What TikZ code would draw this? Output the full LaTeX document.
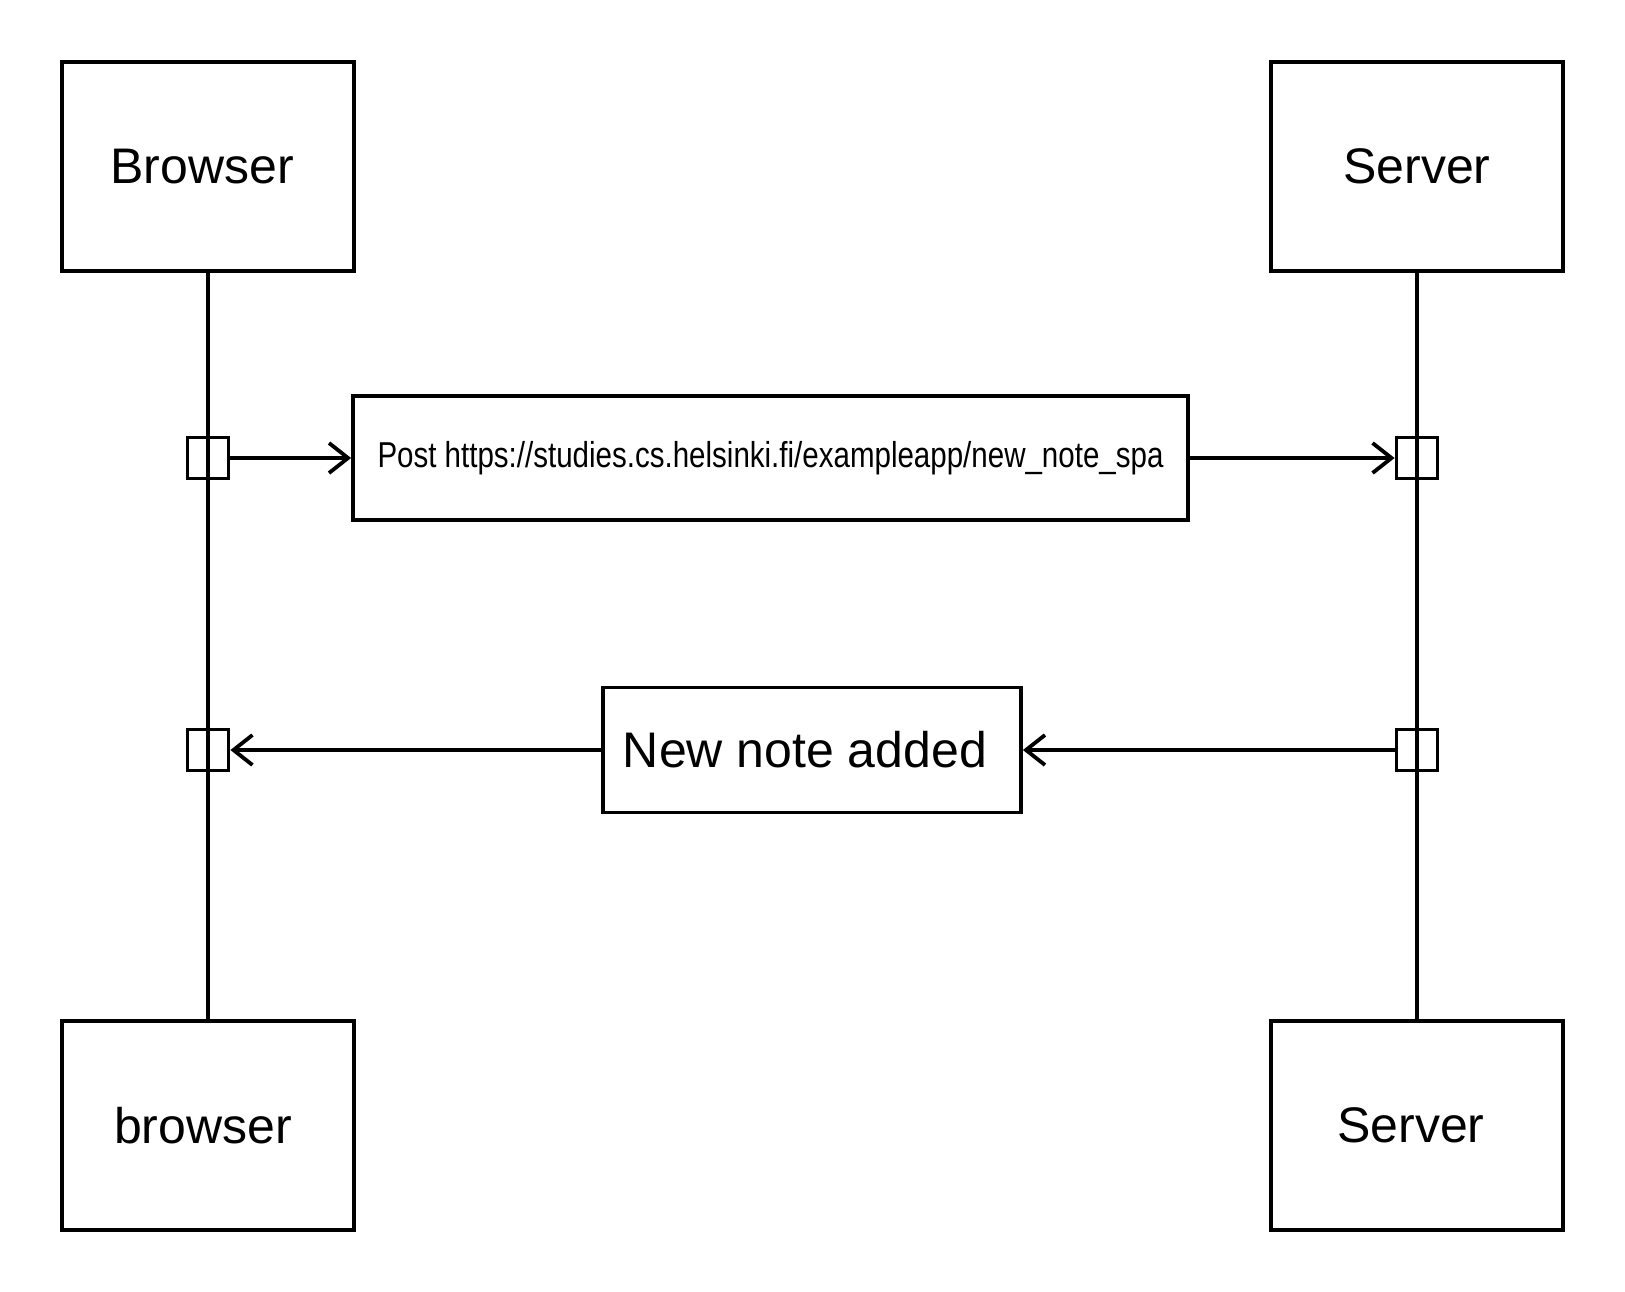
\documentclass[tikz,border=0pt]{standalone}
\usepackage{fontspec}
\setmainfont{Liberation Sans}
\newfontfamily\narrowfont[FakeStretch=0.82]{Liberation Sans}
\usetikzlibrary{arrows.meta}
\begin{document}
\begin{tikzpicture}[x=0.5pt,y=-0.5pt,
  line width=1.9pt,
  actor/.style={draw, minimum width=146pt, minimum height=104.5pt, inner sep=0pt, font=\fontsize{25}{30}\selectfont},
  msgbox/.style={draw, inner sep=0pt},
  act/.style={draw, minimum size=20.5pt, inner sep=0pt},
  msg/.style={-{Straight Barb[length=9.5pt,width=15pt,line width=1.9pt]}}
]
\useasboundingbox (0,0) rectangle (1625,1291);
\node[actor] (bt) at (208,166.5) {Browser\hspace*{6pt}};
\node[actor] (st) at (1417,166.5) {Server};
\node[actor] (bb) at (208,1125.5) {browser\hspace*{5pt}};
\node[actor] (sb) at (1417,1125.5) {Server\hspace*{6pt}};
\draw (bt.south) -- (bb.north);
\draw (st.south) -- (sb.north);
\node[act] (a1) at (208,458) {};
\node[act] (a2) at (1417,458) {};
\node[act] (a3) at (208,750) {};
\node[act] (a4) at (1417,750) {};
\node[msgbox, minimum width=417.5pt, minimum height=62pt, font=\narrowfont\fontsize{18}{22}\selectfont] (post) at (770.5,458) {Post https://studies.cs.helsinki.fi/exampleapp/new\_note\_spa};
\node[msgbox, minimum width=209pt, minimum height=62.5pt, font=\fontsize{25}{30}\selectfont] (note) at (812,750) {New note added\hspace*{7pt}};
\draw[msg] (a1.east) -- (post.west);
\draw[msg] (post.east) -- (a2.west);
\draw[msg] (a4.west) -- (note.east);
\draw[msg] (note.west) -- (a3.east);
\end{tikzpicture}
\end{document}
